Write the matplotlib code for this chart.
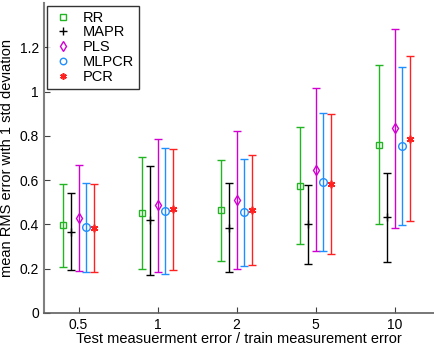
import matplotlib
matplotlib.use("Agg")
import matplotlib.pyplot as plt
import numpy as np

plt.rcParams['font.family'] = ['Liberation Sans', 'DejaVu Sans']

groups = ["0.5", "1", "2", "5", "10"]
methods = ["RR", "MAPR", "PLS", "MLPCR", "PCR"]

# mean RMS error per method, one value per group
rr_mean = [0.396, 0.452, 0.464, 0.575, 0.761]
mapr_mean = [0.368, 0.419, 0.386, 0.401, 0.432]
pls_mean = [0.429, 0.486, 0.509, 0.647, 0.835]
mlpcr_mean = [0.387, 0.461, 0.455, 0.590, 0.755]
pcr_mean = [0.384, 0.468, 0.467, 0.584, 0.787]

# 1 std deviation
rr_std = [0.186, 0.252, 0.229, 0.264, 0.359]
mapr_std = [0.174, 0.246, 0.201, 0.178, 0.202]
pls_std = [0.238, 0.301, 0.311, 0.369, 0.450]
mlpcr_std = [0.202, 0.285, 0.242, 0.312, 0.357]
pcr_std = [0.200, 0.274, 0.248, 0.316, 0.372]

means = [rr_mean, mapr_mean, pls_mean, mlpcr_mean, pcr_mean]
stds = [rr_std, mapr_std, pls_std, mlpcr_std, pcr_std]
colors = ["#22b422", "black", "#d100d1", "#1f8fff", "#ff2020"]
markers = ["s", "+", "d", "o", (6, 2, 0)]
msizes = [4.5, 6, 5.5, 5.5, 5.5]
offsets = [-0.2, -0.1, 0.0, 0.1, 0.2]

fig = plt.figure(figsize=(4.34, 3.47), dpi=100)
ax = fig.add_axes([0.101, 0.098, 0.899, 0.893])

x = np.arange(1, len(groups) + 1)
for i in range(len(methods)):
    filled = i in (1, 4)
    ax.errorbar(x + offsets[i], means[i], yerr=stds[i], fmt="none",
                ecolor=colors[i], elinewidth=1.0, capsize=3, capthick=1.0)
    ax.plot(x + offsets[i], means[i], linestyle="none", marker=markers[i],
            color=colors[i], markersize=msizes[i],
            markerfacecolor=colors[i] if filled else "none",
            markeredgecolor=colors[i], markeredgewidth=1.2 if i == 4 else 1.0,
            label=methods[i])

ax.set_xlim(0.56, 5.5)
ax.set_ylim(0, 1.4)
ax.set_xticks(x)
ax.set_xticklabels(groups)
ax.set_yticks([0, 0.2, 0.4, 0.6, 0.8, 1.0, 1.2])
ax.set_yticklabels(["0", "0.2", "0.4", "0.6", "0.8", "1", "1.2"])
ax.tick_params(direction="in", length=4, labelsize=10, colors="#404040",
               labelcolor="black")
ax.spines["top"].set_visible(False)
ax.spines["right"].set_visible(False)
ax.spines["left"].set_color("#808080")
ax.spines["left"].set_linewidth(1.5)
ax.spines["bottom"].set_color("#606060")
ax.spines["bottom"].set_linewidth(1.2)

ax.set_xlabel("Test measuerment error / train measurement error", fontsize=10.5,
              labelpad=0)
ax.set_ylabel("mean RMS error with 1 std deviation", fontsize=10.5, labelpad=4)

leg = ax.legend(loc="upper left", bbox_to_anchor=(0.008, 0.992),
                fontsize=10.5, frameon=True, fancybox=False, handlelength=1.5,
                handletextpad=0.6, borderpad=0.35, labelspacing=0.05,
                borderaxespad=0, markerscale=0.85)
leg.get_frame().set_edgecolor("black")
leg.get_frame().set_linewidth(1.0)

fig.savefig("out.png", dpi=100)
